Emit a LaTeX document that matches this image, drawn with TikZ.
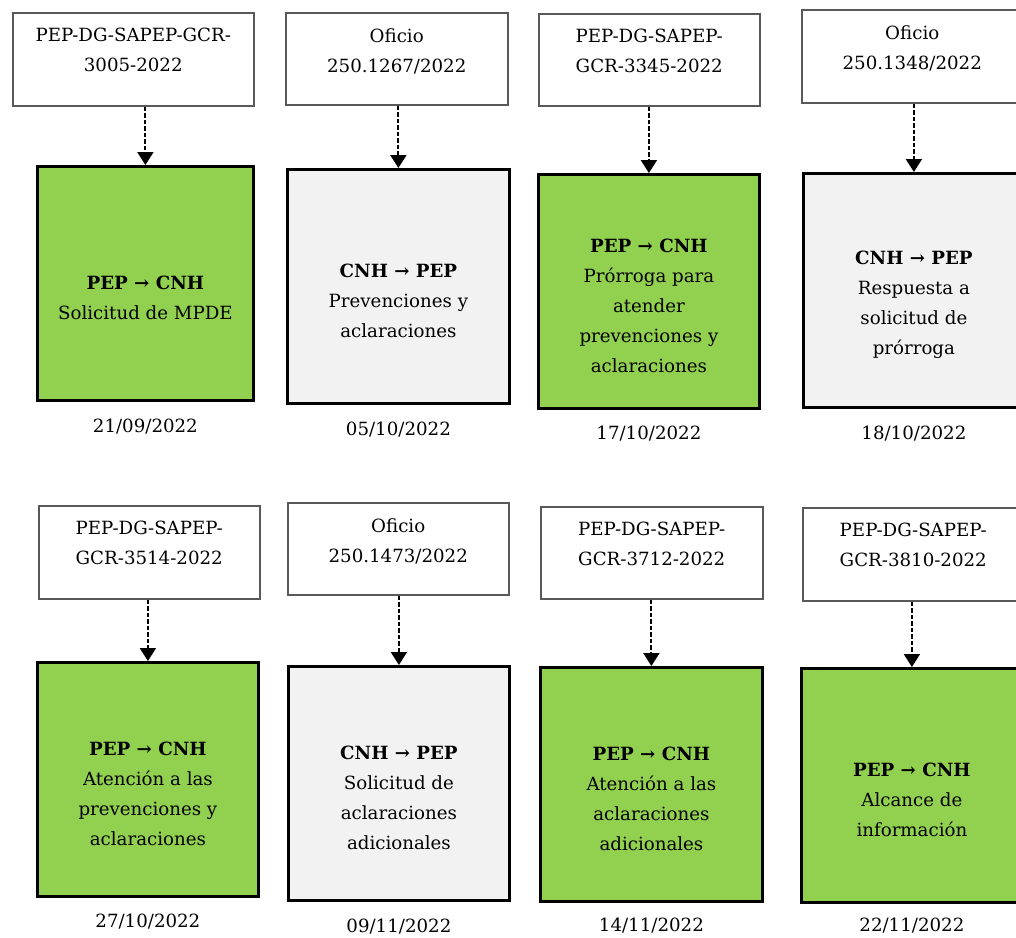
\documentclass[tikz,border=0pt]{standalone}
\usepackage{fontspec}
\setmainfont{DejaVu Serif}
\usetikzlibrary{arrows.meta,calc}
\definecolor{boxgreen}{HTML}{92D050}
\definecolor{boxgray}{HTML}{F2F2F2}
\definecolor{topline}{HTML}{595959}
\tikzset{
  topbox/.style={draw=topline, line width=1.5pt, fill=white, anchor=north west, inner sep=0pt},
  mainbox/.style={draw=black, line width=2.8pt, anchor=north west, inner sep=0pt, minimum height=234pt},
  greenbox/.style={mainbox, fill=boxgreen},
  graybox/.style={mainbox, fill=boxgray},
  boxtext/.style={align=center, inner sep=0pt, font=\fontsize{18.2}{30}\selectfont},
  toptext/.style={boxtext, anchor=north},
  datetext/.style={inner sep=0pt, font=\fontsize{18.2}{30}\selectfont},
  conn/.style={draw=black, line width=2pt, dash pattern=on 4.5pt off 2pt, -{Triangle[width=16pt,length=13pt]}}
}
\begin{document}
\begin{tikzpicture}[x=1pt,y=-1pt]
\clip (0,0) rectangle (1016,937);
\fill[white] (0,0) rectangle (1016,937);
% ---------- row 1 ----------
\node[topbox, minimum width=241pt, minimum height=93pt] (t1) at (12,12) {};
\node[topbox, minimum width=222pt, minimum height=92pt] (t2) at (285,12) {};
\node[topbox, minimum width=221pt, minimum height=92pt] (t3) at (538,13) {};
\node[topbox, minimum width=221pt, minimum height=93pt] (t4) at (801,9) {};
\node[toptext] (t1x) at ([yshift=-16pt]t1.north) {PEP-DG-SAPEP-GCR-\\3005-2022};
\node[toptext] (t2x) at ([yshift=-16pt]t2.north) {Oficio\\250.1267/2022};
\node[toptext] (t3x) at ([yshift=-16pt]t3.north) {PEP-DG-SAPEP-\\GCR-3345-2022};
\node[toptext] (t4x) at ([yshift=-16pt]t4.north) {Oficio\\250.1348/2022};

\node[greenbox, minimum width=216pt] (m1) at (36,165) {};
\node[graybox, minimum width=222pt] (m2) at (286,168) {};
\node[greenbox, minimum width=221pt] (m3) at (537,173) {};
\node[graybox, minimum width=221pt] (m4) at (802,172) {};
\node[boxtext] (m1x) at ([yshift=-14pt]m1.center) {\textbf{PEP → CNH}\\Solicitud de MPDE};
\node[boxtext] (m2x) at ([yshift=-14pt]m2.center) {\textbf{CNH → PEP}\\Prevenciones y\\aclaraciones};
\node[boxtext] (m3x) at ([yshift=-14pt]m3.center) {\textbf{PEP → CNH}\\Prórroga para\\atender\\prevenciones y\\aclaraciones};
\node[boxtext] (m4x) at ([yshift=-14pt]m4.center) {\textbf{CNH → PEP}\\Respuesta a\\solicitud de\\prórroga};

\node[datetext] (d1) at ([yshift=-25pt]m1.south) {21/09/2022};
\node[datetext] (d2) at ([yshift=-25pt]m2.south) {05/10/2022};
\node[datetext] (d3) at ([yshift=-24pt]m3.south) {17/10/2022};
\node[datetext] (d4) at ([yshift=-25pt]m4.south) {18/10/2022};

\draw[conn] (t1.south -| m1.north) -- (m1.north);
\draw[conn] (t2.south -| m2.north) -- (m2.north);
\draw[conn] (t3.south -| m3.north) -- (m3.north);
\draw[conn] (t4.south -| m4.north) -- (m4.north);

% ---------- row 2 ----------
\node[topbox, minimum width=221pt, minimum height=93pt] (t5) at (38,505) {};
\node[topbox, minimum width=221pt, minimum height=92pt] (t6) at (287,502) {};
\node[topbox, minimum width=222pt, minimum height=92pt] (t7) at (540,506) {};
\node[topbox, minimum width=221pt, minimum height=93pt] (t8) at (802,507) {};
\node[toptext] (t5x) at ([yshift=-16pt]t5.north) {PEP-DG-SAPEP-\\GCR-3514-2022};
\node[toptext] (t6x) at ([yshift=-16pt]t6.north) {Oficio\\250.1473/2022};
\node[toptext] (t7x) at ([yshift=-16pt]t7.north) {PEP-DG-SAPEP-\\GCR-3712-2022};
\node[toptext] (t8x) at ([yshift=-16pt]t8.north) {PEP-DG-SAPEP-\\GCR-3810-2022};

\node[greenbox, minimum width=221pt] (m5) at (36,661) {};
\node[graybox, minimum width=221pt] (m6) at (287,665) {};
\node[greenbox, minimum width=222pt] (m7) at (539,666) {};
\node[greenbox, minimum width=221pt] (m8) at (800,667) {};
\node[boxtext] (m5x) at ([yshift=-14pt]m5.center) {\textbf{PEP → CNH}\\Atención a las\\prevenciones y\\aclaraciones};
\node[boxtext] (m6x) at ([yshift=-14pt]m6.center) {\textbf{CNH → PEP}\\Solicitud de\\aclaraciones\\adicionales};
\node[boxtext] (m7x) at ([yshift=-14pt]m7.center) {\textbf{PEP → CNH}\\Atención a las\\aclaraciones\\adicionales};
\node[boxtext] (m8x) at ([yshift=-14pt]m8.center) {\textbf{PEP → CNH}\\Alcance de\\información};

\node[datetext] (d5) at ([yshift=-24pt]m5.south) {27/10/2022};
\node[datetext] (d6) at ([yshift=-25pt]m6.south) {09/11/2022};
\node[datetext] (d7) at ([yshift=-23pt]m7.south) {14/11/2022};
\node[datetext] (d8) at ([yshift=-22pt]m8.south) {22/11/2022};

\draw[conn] (t5.south -| m5.north) -- (m5.north);
\draw[conn] (t6.south -| m6.north) -- (m6.north);
\draw[conn] (t7.south -| m7.north) -- (m7.north);
\draw[conn] (t8.south -| m8.north) -- (m8.north);
\end{tikzpicture}
\end{document}
